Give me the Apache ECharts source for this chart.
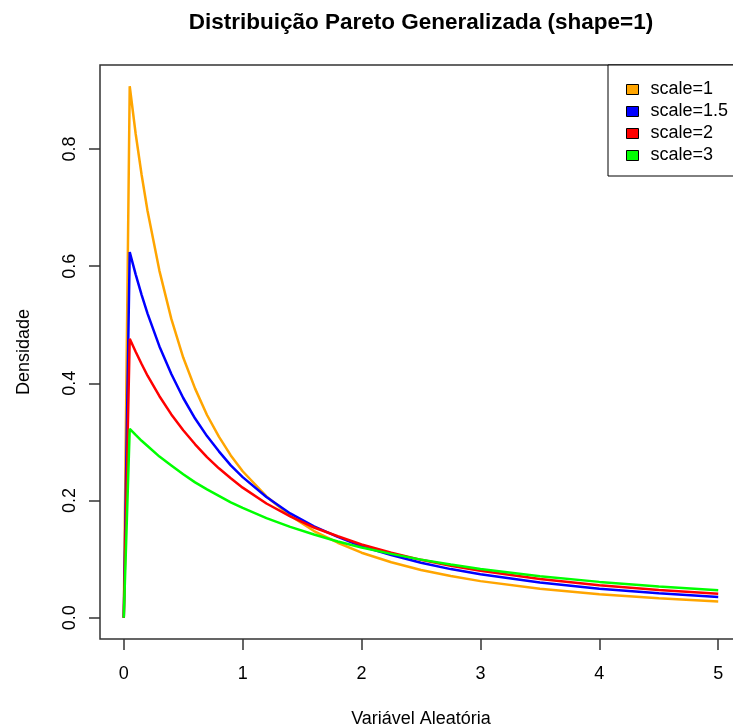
<!DOCTYPE html>
<html>
<head>
<meta charset="utf-8">
<script src="https://cdn.jsdelivr.net/npm/echarts@6/dist/echarts.min.js"></script>
<style>
  html, body { margin: 0; padding: 0; background: #fff; }
  #chart { width: 733px; height: 728px; }
</style>
</head>
<body>
<div id="chart"></div>
<script>
// Generalized Pareto densities (shape = 1) for several scale values
const xValues = [0, 0.05, 0.1, 0.15, 0.2, 0.3, 0.4, 0.5, 0.6, 0.7, 0.8, 0.9, 1.0,
  1.2, 1.4, 1.6, 1.8, 2.0, 2.25, 2.5, 2.75, 3.0, 3.5, 4.0, 4.5, 5.0];

const scale1 = [0, 0.907, 0.826, 0.756, 0.694, 0.592, 0.510, 0.444, 0.391, 0.346, 0.309, 0.277, 0.250,
  0.207, 0.174, 0.148, 0.128, 0.111, 0.0947, 0.0816, 0.0711, 0.0625, 0.0494, 0.0400, 0.0331, 0.0278];
const scale15 = [0, 0.624, 0.586, 0.551, 0.519, 0.463, 0.416, 0.375, 0.340, 0.310, 0.284, 0.260, 0.240,
  0.206, 0.178, 0.156, 0.138, 0.122, 0.107, 0.0938, 0.0830, 0.0741, 0.0600, 0.0496, 0.0417, 0.0355];
const scale2 = [0, 0.476, 0.454, 0.433, 0.413, 0.378, 0.347, 0.320, 0.296, 0.274, 0.255, 0.238, 0.222,
  0.195, 0.173, 0.154, 0.139, 0.125, 0.111, 0.0988, 0.0886, 0.0800, 0.0661, 0.0556, 0.0473, 0.0408];
const scale3 = [0, 0.3225, 0.312, 0.302, 0.293, 0.275, 0.260, 0.245, 0.231, 0.219, 0.208, 0.197, 0.1875,
  0.170, 0.155, 0.142, 0.130, 0.120, 0.109, 0.0992, 0.0907, 0.0833, 0.0710, 0.0612, 0.0533, 0.0469];

const seriesNames = ['scale=1', 'scale=1.5', 'scale=2', 'scale=3'];
const seriesColors = ['#FFA500', '#0000FF', '#FF0000', '#00FF00'];
const seriesValues = [scale1, scale15, scale2, scale3];

const xTicks = [0, 1, 2, 3, 4, 5];
const yTicks = [0, 0.2, 0.4, 0.6, 0.8];

const font = 'Liberation Sans, Arial, sans-serif';
const axisColor = '#333';

const chart = echarts.init(document.getElementById('chart'), null, { renderer: 'canvas' });

chart.setOption({
  animation: false,
  backgroundColor: '#fff',
  title: {
    text: 'Distribuição Pareto Generalizada (shape=1)',
    left: 416,
    top: 6,
    textAlign: 'center',
    textStyle: { fontFamily: font, fontSize: 22.5, fontWeight: 'bold', color: '#000' }
  },
  legend: {
    orient: 'vertical',
    left: 608,
    top: 65,
    padding: [15, 20, 11, 18],
    itemGap: 3,
    itemWidth: 12,
    itemHeight: 10,
    icon: 'rect',
    borderColor: '#000',
    borderWidth: 1,
    backgroundColor: '#fff',
    itemStyle: { borderColor: '#000', borderWidth: 1 },
    textStyle: { fontFamily: font, fontSize: 18, color: '#000', lineHeight: 19, padding: [0, 0, 0, 7] },
    data: seriesNames
  },
  grid: {
    left: 100,
    top: 65,
    width: 642,
    height: 574,
    outerBoundsMode: 'none',
    containLabel: false,
    show: true,
    borderColor: axisColor,
    borderWidth: 1.5,
    backgroundColor: 'transparent'
  },
  xAxis: {
    type: 'value',
    min: -0.2,
    max: 5.2,
    name: 'Variável Aleatória',
    nameLocation: 'middle',
    nameGap: 71,
    nameTextStyle: { fontFamily: font, fontSize: 18, color: '#000' },
    axisLine: { show: false, onZero: false },
    axisTick: { show: true, inside: false, length: 11, customValues: xTicks, lineStyle: { color: axisColor, width: 1.5 } },
    axisLabel: { customValues: xTicks, fontFamily: font, fontSize: 18, color: '#000', margin: 26 },
    splitLine: { show: false }
  },
  yAxis: {
    type: 'value',
    min: -0.03628,
    max: 0.94328,
    name: 'Densidade',
    nameLocation: 'middle',
    nameGap: 67,
    nameTextStyle: { fontFamily: font, fontSize: 18, color: '#000' },
    axisLine: { show: false, onZero: false },
    axisTick: { show: true, inside: false, length: 11, customValues: yTicks, lineStyle: { color: axisColor, width: 1.5 } },
    axisLabel: {
      customValues: yTicks,
      rotate: 90,
      fontFamily: font, fontSize: 18, color: '#000', margin: 21,
      formatter: v => v.toFixed(1)
    },
    splitLine: { show: false }
  },
  series: seriesValues.map((vals, i) => ({
    name: seriesNames[i],
    type: 'line',
    color: seriesColors[i],
    showSymbol: false,
    symbol: 'none',
    lineStyle: { width: 2.5, color: seriesColors[i] },
    itemStyle: { color: seriesColors[i] },
    data: xValues.map((x, j) => [x, vals[j]])
  }))
});
</script>
</body>
</html>
